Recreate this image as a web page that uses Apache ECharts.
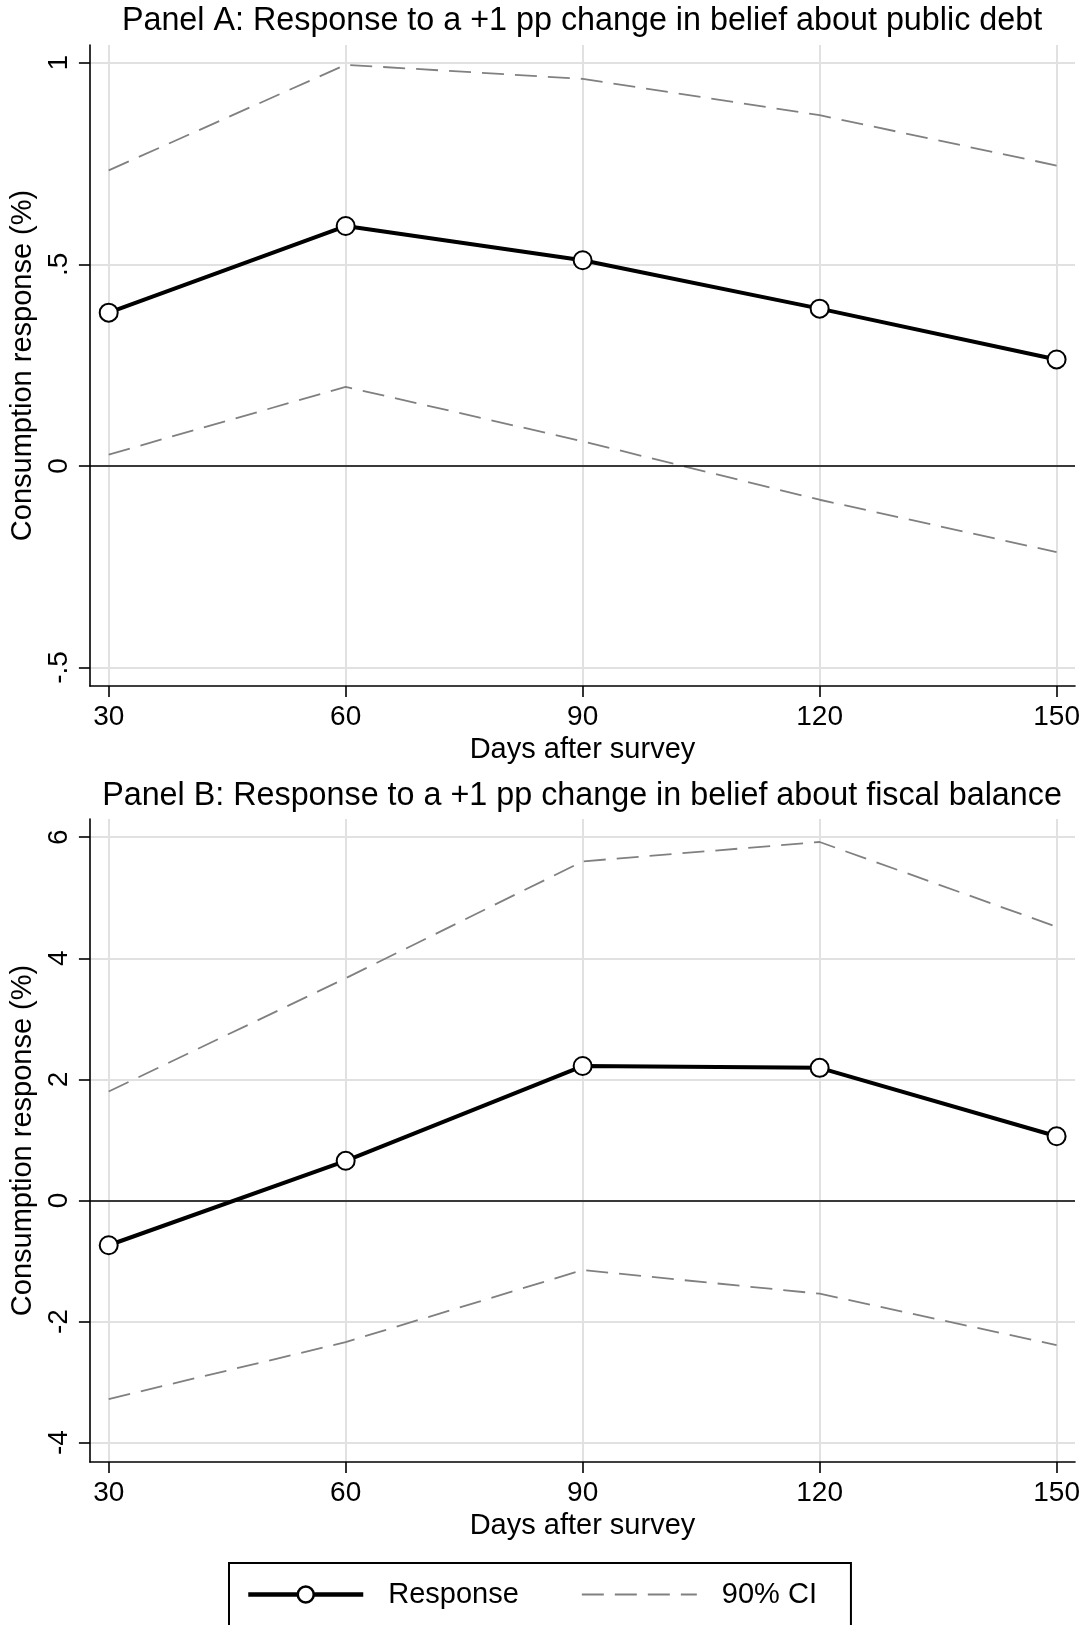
<!DOCTYPE html>
<html>
<head>
<meta charset="utf-8">
<script src="https://cdn.jsdelivr.net/npm/echarts@6/dist/echarts.min.js"></script>
<style>
  html, body { margin: 0; padding: 0; background: #fff; }
  #chart { width: 1088px; height: 1625px; }
</style>
</head>
<body>
<div id="chart"></div>
<script>
// days after survey (x)
var days = [30, 60, 90, 120, 150];

// Panel A: public debt
var respA = [0.38, 0.595, 0.51, 0.39, 0.264];
var upperA = [0.733, 0.995, 0.96, 0.87, 0.745];
var lowerA = [0.028, 0.196, 0.061, -0.084, -0.214];
var yTicksA = [-0.5, 0, 0.5, 1];

// Panel B: fiscal balance
var respB = [-0.74, 0.655, 2.22, 2.19, 1.06];
var upperB = [1.80, 3.67, 5.60, 5.92, 4.52];
var lowerB = [-3.28, -2.34, -1.15, -1.54, -2.39];
var yTicksB = [-4, -2, 0, 2, 4, 6];

var titleA = 'Panel A: Response to a +1 pp change in belief about public debt';
var titleB = 'Panel B: Response to a +1 pp change in belief about fiscal balance';

var FONT = '"Liberation Sans", Arial, sans-serif';
var GRID_COLOR = '#e1e1e1';
var CI_COLOR = '#808080';

function pairs(xs, ys) {
  return xs.map(function (x, i) { return [x, ys[i]]; });
}

function fmtTick(v) {
  if (v === 0) return '0';
  return String(v).replace(/^(-?)0\./, '$1.');
}

function xAxisFor(idx) {
  return {
    type: 'value', gridIndex: idx,
    min: 27.62, max: 152.33,
    name: 'Days after survey', nameLocation: 'middle', nameGap: 49,
    nameTextStyle: { fontFamily: FONT, fontSize: 29, color: '#000' },
    axisLine: { onZero: false, lineStyle: { color: '#000', width: 1.6 } },
    axisTick: { customValues: days, length: 11, lineStyle: { color: '#000', width: 1.6 } },
    axisLabel: { customValues: days, margin: 17, fontFamily: FONT, fontSize: 28, color: '#000' },
    splitLine: { show: true, lineStyle: { color: GRID_COLOR, width: 2 } }
  };
}

function yAxisFor(idx, mn, mx, ticks) {
  return {
    type: 'value', gridIndex: idx,
    min: mn, max: mx,
    name: 'Consumption response (%)', nameLocation: 'middle', nameGap: 50,
    nameTextStyle: { fontFamily: FONT, fontSize: 29, color: '#000' },
    axisLine: { show: true, onZero: false, lineStyle: { color: '#000', width: 1.6 } },
    axisTick: { show: true, customValues: ticks, length: 11, lineStyle: { color: '#000', width: 1.6 } },
    axisLabel: { customValues: ticks, rotate: 90, margin: 17, fontFamily: FONT, fontSize: 28, color: '#000',
                 formatter: fmtTick },
    splitLine: { show: true, lineStyle: { color: GRID_COLOR, width: 2 } }
  };
}

function panelSeries(idx, resp, upper, lower) {
  var ci = {
    type: 'line', name: '90% CI', xAxisIndex: idx, yAxisIndex: idx,
    showSymbol: false, symbol: 'none', z: 3,
    lineStyle: { color: CI_COLOR, width: 1.8, type: [22, 11] },
    itemStyle: { color: CI_COLOR },
    emphasis: { disabled: true }
  };
  return [
    Object.assign({}, ci, {
      data: pairs(days, upper),
      markLine: {
        silent: true, symbol: 'none', label: { show: false },
        lineStyle: { color: '#000', width: 1.6, type: 'solid' },
        data: [{ yAxis: 0 }]
      }
    }),
    Object.assign({}, ci, { data: pairs(days, lower) }),
    {
      type: 'line', name: 'Response', xAxisIndex: idx, yAxisIndex: idx,
      data: pairs(days, resp), z: 5,
      symbol: 'circle', symbolSize: 18, showSymbol: true,
      lineStyle: { color: '#000', width: 4 },
      itemStyle: { color: '#fff', borderColor: '#000', borderWidth: 2 },
      emphasis: { disabled: true }
    }
  ];
}

var chart = echarts.init(document.getElementById('chart'), null, { renderer: 'canvas' });
chart.setOption({
  animation: false,
  backgroundColor: '#fff',
  title: [
    { text: titleA, left: 582, top: 5, textAlign: 'center', padding: 0,
      textStyle: { fontFamily: FONT, fontSize: 32.3, fontWeight: 'normal', color: '#000' } },
    { text: titleB, left: 582, top: 780, textAlign: 'center', padding: 0,
      textStyle: { fontFamily: FONT, fontSize: 32.3, fontWeight: 'normal', color: '#000' } }
  ],
  grid: [
    { left: 89, right: 13, top: 45, height: 641 },
    { left: 89, right: 13, top: 819, height: 643 }
  ],
  xAxis: [xAxisFor(0), xAxisFor(1)],
  yAxis: [
    yAxisFor(0, -0.546, 1.044, yTicksA),
    yAxisFor(1, -4.32, 6.30, yTicksB)
  ],
  legend: {
    left: 229, top: 1563,
    data: [
      { name: 'Response', lineStyle: { width: 4.5 }, itemStyle: { borderWidth: 2.5 } },
      { name: '90% CI', lineStyle: { width: 2 },
        itemStyle: { color: 'rgba(0,0,0,0)', borderColor: 'rgba(0,0,0,0)', borderWidth: 0 } }
    ],
    itemWidth: 115, itemHeight: 20, itemGap: 62,
    padding: [17, 34, 17, 17],
    borderColor: '#000', borderWidth: 2,
    textStyle: { fontFamily: FONT, fontSize: 29, color: '#000', padding: [0, 0, 0, 20] },
    selectedMode: false
  },
  series: panelSeries(0, respA, upperA, lowerA).concat(panelSeries(1, respB, upperB, lowerB))
});
</script>
</body>
</html>
